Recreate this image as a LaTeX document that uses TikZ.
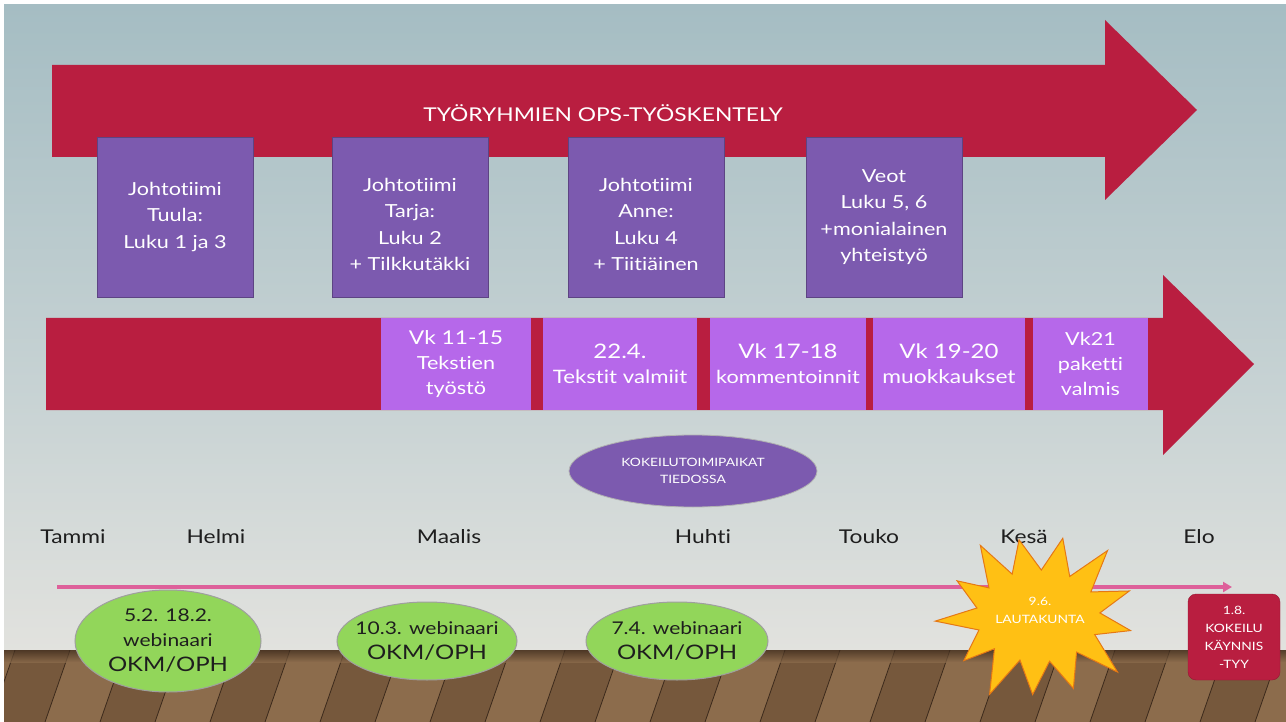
\documentclass[tikz,border=0pt]{standalone}
\usepackage{fontspec}
\setmainfont{Lato}[FakeStretch=1.2, Ligatures=NoCommon]
\usetikzlibrary{shapes.geometric,arrows.meta}
\definecolor{bgtop}{RGB}{165,189,195}
\definecolor{bgmid}{RGB}{200,211,212}
\definecolor{bgbot}{RGB}{226,226,222}
\definecolor{crim}{RGB}{185,30,64}
\definecolor{dpurp}{RGB}{124,90,175}
\definecolor{lpurp}{RGB}{182,104,234}
\definecolor{lime}{RGB}{146,214,90}
\definecolor{pinkline}{RGB}{222,96,154}
\definecolor{woodA}{RGB}{140,108,76}
\definecolor{woodB}{RGB}{118,88,60}
\definecolor{wooddark}{RGB}{60,42,28}
\definecolor{starfill}{RGB}{255,192,20}
\definecolor{starline}{RGB}{230,120,20}
\definecolor{txt}{RGB}{30,30,30}
\begin{document}
\begin{tikzpicture}[x=1pt,y=-1pt,
  pbox/.style={fill=dpurp, draw=dpurp!75!black, minimum width=156pt, minimum height=160pt, text=white,
    font=\fontsize{18}{26.5}\selectfont, align=center, inner sep=0pt},
  seg/.style={fill=lpurp, minimum height=92pt, text=white, align=center, inner sep=0pt,
    font=\fontsize{18}{25}\selectfont},
  month/.style={text=txt, font=\fontsize{19}{22}\selectfont, anchor=base},
  gell/.style={ellipse, fill=lime, draw=gray!75, line width=1pt, inner sep=0pt},
  gtext/.style={text=txt, align=center, inner sep=0pt, font=\fontsize{17.5}{25}\selectfont},
]
\useasboundingbox (0,0) rectangle (1286,722);
\fill[white] (0,0) rectangle (1286,722);
% background
\shade[top color=bgtop, bottom color=bgmid] (4,5) rectangle (1286,401);
\shade[top color=bgmid, bottom color=bgbot] (4,400) rectangle (1286,652);
% wooden floor
\fill[woodA] (4,650) rectangle (1286,722);
\begin{scope}
\clip (4,650) rectangle (1286,722);
\foreach \x in {-120,-10,...,1300}{
  \fill[woodB] (\x,722) -- (\x+55,722) -- (\x+80,650) -- (\x+25,650) -- cycle;
}
\foreach \x in {-120,-65,...,1300}{
  \draw[wooddark, line width=0.8pt] (\x,722) -- (\x+25,650);
}
\shade[top color=wooddark, bottom color=woodA, opacity=0.7] (4,650) rectangle (1286,662);
\end{scope}
% top arrow
\fill[crim] (52,65) -- (1105,65) -- (1105,20) -- (1197,110) -- (1105,200) -- (1105,157) -- (52,157) -- cycle;
\node[text=white, font=\fontsize{19}{24}\selectfont] (title) at (603,113) {TYÖRYHMIEN OPS-TYÖSKENTELY};
% purple boxes
\node[pbox] (b1) at (175,217) {Johtotiimi\\Tuula:\\Luku 1 ja 3};
\node[pbox] (b2) at (410,217) {\rule{0pt}{28pt}Johtotiimi\\Tarja:\\Luku 2\\+ Tilkkutäkki};
\node[pbox] (b3) at (646,217) {\rule{0pt}{28pt}Johtotiimi\\Anne:\\Luku 4\\+ Tiitiäinen};
\node[pbox] (b4) at (884,217) {Veot\\Luku 5, 6\\+monialainen\\yhteistyö};
% lower arrow
\fill[crim] (46,318) -- (1163,318) -- (1163,275) -- (1254,364) -- (1163,455) -- (1163,410) -- (46,410) -- cycle;
\node[seg, minimum width=150pt] (s1) at (456,364) {{\fontsize{19}{25}\selectfont Vk 11-15}\\Tekstien\\työstö};
\node[seg, minimum width=154pt] (s2) at (620,364) {{\fontsize{20}{27}\selectfont 22.4.}\\{\fontsize{18.5}{22}\selectfont Tekstit valmiit}};
\node[seg, minimum width=156pt] (s3) at (788,364) {{\fontsize{20}{27}\selectfont Vk 17-18}\\{\fontsize{18}{22}\selectfont kommentoinnit}};
\node[seg, minimum width=152pt] (s4) at (949,364) {{\fontsize{20}{27}\selectfont Vk 19-20}\\{\fontsize{19}{22}\selectfont muokkaukset}};
\node[seg, minimum width=115pt] (s5) at (1090.5,364) {Vk21\\paketti\\valmis};
% ellipse
\node[ellipse, fill=dpurp, draw=gray!60, line width=0.8pt, minimum width=248pt, minimum height=72pt,
  text=white, align=center, inner sep=0pt, font=\fontsize{11.5}{17}\selectfont] (kok) at (693,471) {KOKEILUTOIMIPAIKAT\\TIEDOSSA};
% months
\node[month] (m1) at (73,543) {Tammi};
\node[month] (m2) at (216,543) {Helmi};
\node[month] (m3) at (449,543) {Maalis};
\node[month] (m4) at (703,543) {Huhti};
\node[month] (m5) at (869,543) {Touko};
\node[month] (m6) at (1024,543) {Kesä};
\node[month] (m7) at (1199,543) {Elo};
% pink timeline
\coordinate (pa) at (57,587);
\coordinate (pb) at (1232,587);
\draw[pinkline, line width=3.5pt, -{Triangle[length=9pt,width=10pt]}] (pa) -- (pb);
% green ellipses
\node[gell, minimum width=186pt, minimum height=102pt] (g1) at (168,641) {};
\node[gtext] (g1t) at (g1.center) {5.2. 18.2.\\webinaari\\{\fontsize{20}{25}\selectfont OKM/OPH}};
\node[gell, minimum width=180pt, minimum height=78pt] (g2) at (427,641) {};
\node[gtext] (g2t) at (g2.center) {10.3. webinaari\\{\fontsize{20}{25}\selectfont OKM/OPH}};
\node[gell, minimum width=182pt, minimum height=78pt] (g3) at (677,641) {};
\node[gtext] (g3t) at (g3.center) {7.4. webinaari\\{\fontsize{20}{25}\selectfont OKM/OPH}};
% star
\fill[starfill, draw=starline, line width=1pt]
  plot[variable=\k, samples at={0,...,25}]
  ({1038 + (mod(\k,2)==0 ? 94+9*sin(\k*67) : 62)*cos(\k*13.846+10)},
   {616 + (mod(\k,2)==0 ? 84+8*sin(\k*53) : 46)*sin(\k*13.846+10)}) -- cycle;
\node[text=white, align=center, font=\fontsize{11.5}{18}\selectfont] (star) at (1040,610) {9.6.\\LAUTAKUNTA};
% red box
\node[fill=crim, draw=crim!80!black, rounded corners=8pt, minimum width=92pt, minimum height=86pt,
  text=white, align=center, inner sep=0pt, font=\fontsize{11.5}{18}\selectfont] (kay) at (1234,637) {1.8.\\KOKEILU\\KÄYNNIS\\-TYY};
\end{tikzpicture}
\end{document}
